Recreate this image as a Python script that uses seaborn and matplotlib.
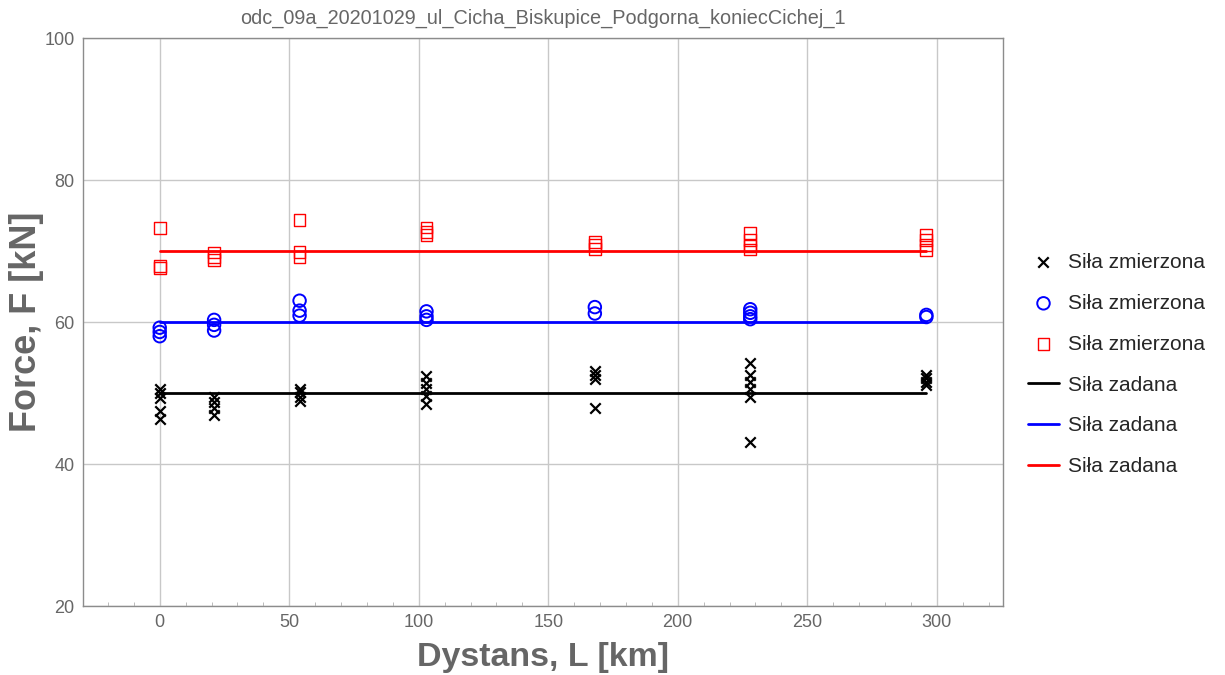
import matplotlib
matplotlib.use("Agg")
import matplotlib.pyplot as plt
from matplotlib.ticker import MultipleLocator
from matplotlib.lines import Line2D
import seaborn as sns
import pandas as pd

# Measurement stations along the route [km]
distances = [0, 21, 54, 103, 168, 228, 296]

# Measured force at each station [kN], one list per station
measured_50 = [
    [50.6, 50.0, 49.3, 47.5, 46.3],
    [49.4, 48.7, 47.9, 46.9],
    [50.6, 50.1, 49.5, 48.9],
    [52.4, 51.4, 50.5, 49.6, 48.5],
    [53.1, 52.6, 52.0, 47.9],
    [54.2, 52.5, 51.5, 50.5, 49.4, 43.1],
    [52.6, 52.1, 51.6, 51.1],
]
measured_60 = [
    [59.2, 58.6, 58.0],
    [60.3, 59.6, 58.8],
    [63.0, 61.6, 60.9],
    [61.5, 60.8, 60.3],
    [62.1, 61.2],
    [61.8, 61.3, 60.8, 60.4],
    [61.0, 60.7],
]
measured_70 = [
    [73.2, 67.9, 67.6],
    [69.8, 69.2, 68.7],
    [74.4, 69.9, 69.1],
    [73.3, 72.7, 72.2],
    [71.3, 70.8, 70.3],
    [72.5, 71.5, 70.7, 70.2],
    [72.2, 71.5, 70.8, 70.1],
]

# Set-point forces [kN]
targets = [50, 60, 70]

title = "odc_09a_20201029_ul_Cicha_Biskupice_Podgorna_koniecCichej_1"
label_measured = "Siła zmierzona"
label_target = "Siła zadana"
xlabel = "Dystans, L [km]"
ylabel = "Force, F [kN]"


def to_frame(values):
    rows = [(d, v) for d, vals in zip(distances, values) for v in vals]
    return pd.DataFrame(rows, columns=["L", "F"])


sns.set_style("white")
plt.rcParams["font.family"] = ["Liberation Sans", "DejaVu Sans"]

grey = "#666666"
fig = plt.figure(figsize=(12.25, 6.75), dpi=100)
ax = fig.add_axes([0.0678, 0.1022, 0.751, 0.8415])

series = [
    (measured_50, "black", "x", 7.5, 1.6),
    (measured_60, "#0000ff", "o", 9, 1.4),
    (measured_70, "#ff0000", "s", 8.5, 1.0),
]
for vals, col, mk, ms, mew in series:
    df = to_frame(vals)
    if mk == "x":
        sns.scatterplot(data=df, x="L", y="F", ax=ax, marker="x", color=col,
                        s=ms ** 2, linewidth=mew, label=label_measured, zorder=3)
    else:
        sns.scatterplot(data=df, x="L", y="F", ax=ax, marker=mk,
                        facecolor="none", edgecolor=col, s=ms ** 2,
                        linewidth=mew, label=label_measured, zorder=3)

line_colors = ["black", "#0000ff", "#ff0000"]
for t, col in zip(targets, line_colors):
    df = pd.DataFrame({"L": [distances[0], distances[-1]], "F": [t, t]})
    sns.lineplot(data=df, x="L", y="F", ax=ax, color=col, linewidth=2.0,
                 label=label_target, zorder=2)

ax.set_xlim(-29.6, 325.6)
ax.set_ylim(20, 100)
ax.xaxis.set_major_locator(MultipleLocator(50))
ax.xaxis.set_minor_locator(MultipleLocator(10))
ax.yaxis.set_major_locator(MultipleLocator(20))
ax.grid(True, which="major", color="#c8c8c8", linewidth=1.0)
ax.set_axisbelow(True)
for s in ax.spines.values():
    s.set_visible(True)
    s.set_color("#8c8c8c")
    s.set_linewidth(1.0)
ax.tick_params(axis="both", which="major", labelsize=13, colors=grey,
               length=0, pad=6)
ax.tick_params(axis="x", which="minor", direction="in", length=3,
               color="#b0b0b0", bottom=True)

ax.set_xlabel(xlabel, fontsize=24.5, fontweight="bold", color=grey, labelpad=8)
ax.set_ylabel(ylabel, fontsize=26, fontweight="bold", color=grey, labelpad=0)
ax.set_title(title, fontsize=14.3, color=grey, pad=10)

handles, labels = ax.get_legend_handles_labels()
# lines come first in matplotlib's handle list; put the markers first
lines_h = [h for h in handles if isinstance(h, Line2D) and h.get_linestyle() == "-"]
mark_h = [h for h in handles if h not in lines_h]
ax.legend(mark_h + lines_h, [label_measured] * len(mark_h) + [label_target] * len(lines_h),
          loc="center left", bbox_to_anchor=(1.027, 0.425), frameon=False,
          borderaxespad=0, borderpad=0,
          fontsize=15, labelspacing=1.05, handlelength=1.5, handletextpad=0.45)

fig.savefig("out.png", dpi=100)
